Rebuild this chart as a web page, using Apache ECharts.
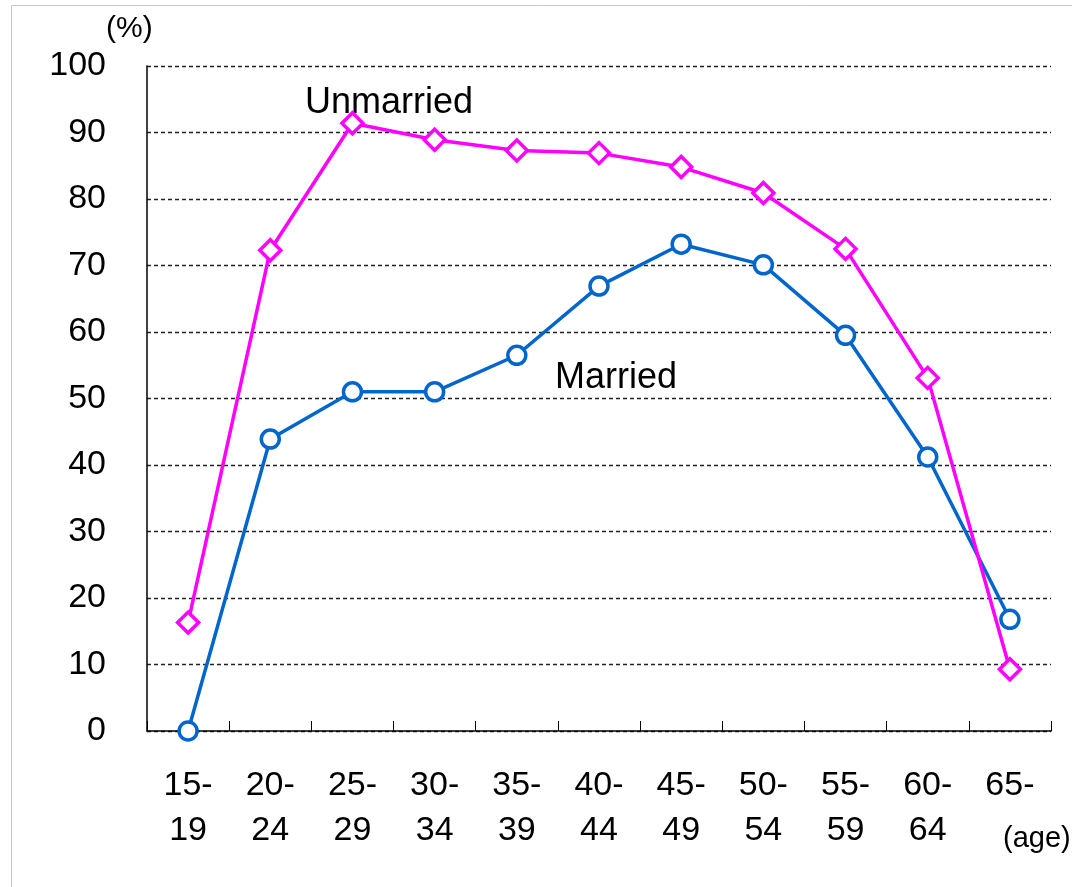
<!DOCTYPE html>
<html>
<head>
<meta charset="utf-8">
<script src="https://cdn.jsdelivr.net/npm/echarts@6/dist/echarts.min.js"></script>
<style>
  html, body { margin: 0; padding: 0; background: #fff; }
  #chart { width: 1072px; height: 887px; }
</style>
</head>
<body>
<div id="chart"></div>
<script>
var ageGroups = ['15-19', '20-24', '25-29', '30-34', '35-39', '40-44', '45-49', '50-54', '55-59', '60-64', '65-'];
var unmarried = [16.3, 72.3, 91.4, 88.9, 87.3, 86.9, 84.8, 80.9, 72.5, 53.1, 9.3];
var married = [0, 43.9, 51.0, 51.0, 56.5, 66.9, 73.2, 70.1, 59.5, 41.2, 16.8];
var yTicks = [0, 10, 20, 30, 40, 50, 60, 70, 80, 90, 100];

var fontName = '"Liberation Sans", Arial, sans-serif';

var myChart = echarts.init(document.getElementById('chart'));

// 15-19 -> "15-\n19"
function splitAge(v) {
    var i = v.indexOf('-');
    return v.substring(0, i + 1) + '\n' + v.substring(i + 1);
}

var option = {
    backgroundColor: '#fff',
    animation: false,
    textStyle: { fontFamily: fontName },
    grid: { left: 147, right: 21, top: 66, bottom: 156 },
    xAxis: {
        type: 'category',
        data: ageGroups,
        boundaryGap: true,
        axisLine: { lineStyle: { color: '#000', width: 1.5 } },
        axisTick: { show: true, inside: true, length: 10, lineStyle: { color: '#000' } },
        axisLabel: {
            color: '#000',
            fontSize: 34,
            fontFamily: fontName,
            lineHeight: 45,
            margin: 32,
            interval: 0,
            formatter: splitAge
        },
        splitLine: { show: false }
    },
    yAxis: {
        type: 'value',
        min: yTicks[0],
        max: yTicks[yTicks.length - 1],
        interval: 10,
        axisLine: { show: true, lineStyle: { color: '#000', width: 1.5 } },
        axisTick: { show: false },
        axisLabel: { color: '#000', fontSize: 34, fontFamily: fontName, margin: 41 },
        splitLine: { lineStyle: { color: '#222', type: [4, 3], width: 1.3 } }
    },
    series: [{
        name: 'Married',
        type: 'line',
        data: married,
        symbol: 'circle',
        symbolSize: 18,
        lineStyle: { color: '#0066CC', width: 3.5 },
        itemStyle: { color: '#fff', borderColor: '#0066CC', borderWidth: 3.5 },
        z: 3
    }, {
        name: 'Unmarried',
        type: 'line',
        data: unmarried,
        symbol: 'diamond',
        symbolSize: [21, 21],
        lineStyle: { color: '#FF00FF', width: 3.5 },
        itemStyle: { color: '#fff', borderColor: '#FF00FF', borderWidth: 3.5 },
        z: 4
    }],
    graphic: [{
        type: 'rect',
        z: -10,
        shape: { x: 11.5, y: 5.5, width: 1100, height: 920 },
        style: { fill: 'none', stroke: '#c8c8c8', lineWidth: 1 }
    }, {
        type: 'text',
        style: { text: '(%)', x: 106, y: 29, font: '30px ' + fontName, fill: '#000', verticalAlign: 'middle' }
    }, {
        type: 'text',
        style: { text: '(age)', x: 1003, y: 839, font: '29px ' + fontName, fill: '#000', verticalAlign: 'middle' }
    }, {
        type: 'text',
        style: { text: 'Unmarried', x: 305, y: 103, font: '36px ' + fontName, fill: '#000', verticalAlign: 'middle' }
    }, {
        type: 'text',
        style: { text: 'Married', x: 555, y: 378, font: '36px ' + fontName, fill: '#000', verticalAlign: 'middle' }
    }]
};
myChart.setOption(option);
</script>
</body>
</html>
